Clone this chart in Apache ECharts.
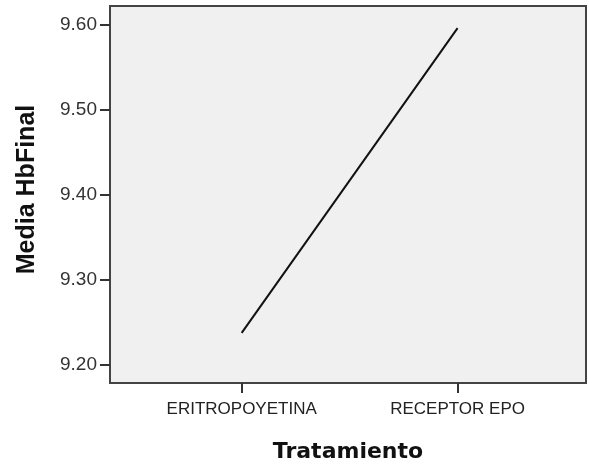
<!DOCTYPE html>
<html>
<head>
<meta charset="utf-8">
<script src="https://cdn.jsdelivr.net/npm/echarts@6/dist/echarts.min.js"></script>
<style>
html,body{margin:0;padding:0;background:#fff;}
#c{width:589px;height:468px;}
</style>
</head>
<body>
<div id="c"></div>
<script>
const categories = ['ERITROPOYETINA', 'RECEPTOR EPO'];
const values = [9.237, 9.596];
const yTicks = [9.20, 9.30, 9.40, 9.50, 9.60];
const xTicks = [0, 1];

const chart = echarts.init(document.getElementById('c'), null, {renderer: 'canvas'});
chart.setOption({
  animation: false,
  grid: {left: 110, right: 3, top: 6, bottom: 85, show: true, backgroundColor: '#f0f0f0', borderColor: '#444', borderWidth: 2},
  xAxis: {
    type: 'value', min: -0.61, max: 1.595,
    name: 'Tratamiento', nameLocation: 'middle', nameGap: 58,
    nameTextStyle: {fontFamily: 'DejaVu Sans', fontWeight: 'bold', fontSize: 22, color: '#111'},
    splitLine: {show: false},
    axisLine: {show: true, onZero: false, lineStyle: {color: '#444', width: 2}},
    axisTick: {show: true, inside: false, length: 10, lineStyle: {color: '#333', width: 2}, customValues: xTicks},
    axisLabel: {customValues: xTicks, margin: 18, fontFamily: 'Liberation Sans', fontSize: 17, color: '#222',
      formatter: v => categories[Math.round(v)] || ''}
  },
  yAxis: {
    type: 'value', min: 9.178, max: 9.622,
    name: 'Media HbFinal', nameLocation: 'middle', nameGap: 70, nameRotate: 90,
    nameTextStyle: {fontFamily: 'Liberation Sans', fontWeight: 'bold', fontSize: 25, color: '#111', padding: [0, 0, 0, 10]},
    splitLine: {show: false},
    axisLine: {show: true, onZero: false, lineStyle: {color: '#444', width: 2}},
    axisTick: {show: true, inside: false, length: 10, lineStyle: {color: '#333', width: 2}, customValues: yTicks},
    axisLabel: {customValues: yTicks, margin: 13, fontFamily: 'Liberation Sans', fontSize: 19, color: '#333',
      formatter: v => v.toFixed(2)}
  },
  series: [{
    type: 'line',
    data: xTicks.map((x, i) => [x, values[i]]),
    showSymbol: false,
    lineStyle: {color: '#111', width: 2}
  }]
});
</script>
</body>
</html>
